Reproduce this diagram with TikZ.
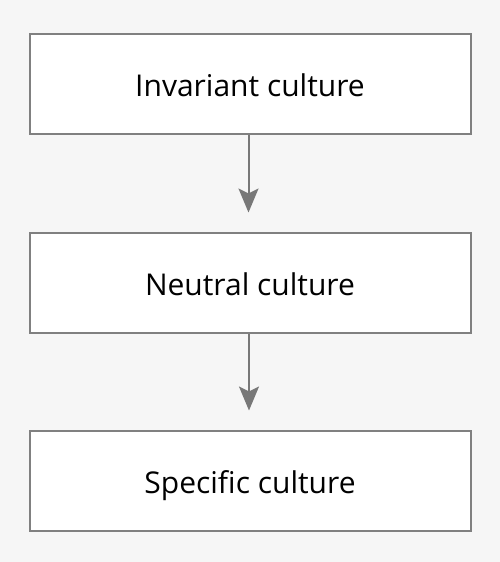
\documentclass[tikz,border=0pt]{standalone}
\usepackage{fontspec}
\setmainfont{Open Sans}
\usetikzlibrary{arrows.meta}
\definecolor{bg}{HTML}{F6F6F6}
\definecolor{edge}{HTML}{808080}
\definecolor{arr}{HTML}{787878}
\begin{document}
\begin{tikzpicture}[x=1pt,y=-1pt,
  box/.style={draw=edge,line width=2pt,fill=white,minimum width=441pt,minimum height=100pt,inner sep=0pt,text height=25pt,text depth=0pt,text=black,font=\fontsize{30pt}{35pt}\selectfont},
  conn/.style={draw=arr,line width=2pt,-{Stealth[length=24pt,width=20pt,inset=5pt]},shorten >=19pt}]
\fill[bg] (0,0) rectangle (500,562);
\useasboundingbox (0,0) rectangle (500,562);
\node[box] (a) at (250,83.5) {Invariant culture};
\node[box] (b) at (250,282.5) {Neutral culture};
\node[box] (c) at (250,480.5) {Specific culture};
\draw[conn] ([xshift=-1.5pt]a.south) -- ([xshift=-1.5pt]b.north);
\draw[conn] ([xshift=-1pt]b.south) -- ([xshift=-1pt]c.north);
\end{tikzpicture}
\end{document}
